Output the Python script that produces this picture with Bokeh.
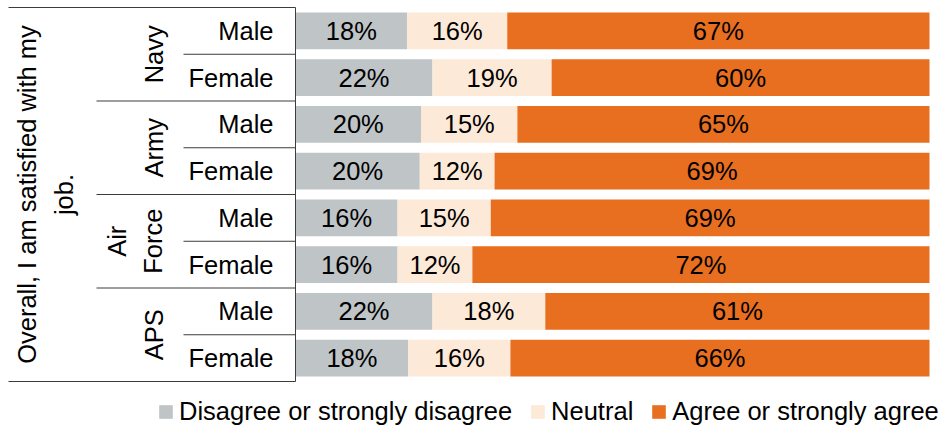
import math
from bokeh.plotting import figure
from bokeh.models import ColumnDataSource, Range1d, Legend, LegendItem
from bokeh.core.properties import value
from bokeh.embed import file_html
from bokeh.resources import INLINE

# ---- data ----
question = "Overall, I am satisfied with my\njob."
services = ["Navy", "Army", "Air\nForce", "APS"]
genders = ["Male", "Female", "Male", "Female", "Male", "Female", "Male", "Female"]
disagree = [17.6, 21.6, 19.8, 19.6, 16.1, 16.1, 21.6, 17.8]
neutral = [15.8, 18.8, 15.2, 11.8, 14.7, 11.8, 17.8, 16.1]
agree = [66.6, 59.6, 65.0, 68.6, 69.2, 72.1, 60.6, 66.1]
series_names = ["Disagree or strongly disagree", "Neutral", "Agree or strongly agree"]
colors = ["#BFC4C7", "#FDE9D8", "#E86E20"]

FONT_NAME = "Liberation Sans"
FONT = value(FONT_NAME)
FS = "25.5px"

W, H = 941, 428
X0_PX, X100_PX = 295, 929
PPU = (X100_PX - X0_PX) / 100.0
TOP_PX, BOT_PX = 7, 381
ROW_PX = (BOT_PX - TOP_PX) / len(genders)


def px(p):
    return (p - X0_PX) / PPU


rows = list(range(len(genders)))
y_top = -0.5 - TOP_PX / ROW_PX
y_bot = -0.5 + (H - TOP_PX) / ROW_PX

p = figure(width=W, height=H, output_backend="svg", toolbar_location=None,
           x_range=Range1d(px(0), px(W)), y_range=Range1d(y_bot, y_top),
           x_axis_location=None, y_axis_location=None, min_border=0)
p.grid.visible = False
p.outline_line_color = None
p.background_fill_color = "white"

renderers = []
left = [0.0] * len(rows)
for name, vals, col in zip(series_names, [disagree, neutral, agree], colors):
    right = [l + v for l, v in zip(left, vals)]
    src = ColumnDataSource(dict(y=rows, left=left, right=right,
                                mid=[(l + r) / 2 for l, r in zip(left, right)],
                                lab=[f"{v:.0f}%" for v in vals]))
    r = p.hbar(y="y", left="left", right="right", height=0.79, source=src,
               fill_color=col, line_color=None)
    renderers.append((name, r))
    p.text(x="mid", y="y", text="lab", source=src, text_align="center",
           text_baseline="middle", text_font=FONT, text_font_size=FS,
           text_color="black")
    left = right

# category labels (gender)
p.text(x=[px(273)] * len(rows), y=rows, text=genders, text_align="right",
       text_baseline="middle", text_font=FONT, text_font_size=FS, text_color="black")

# service group labels (rotated)
grp_y = [2 * j + 0.5 for j in range(len(services))]
p.text(x=[px(167)] * len(services), y=grp_y, text=services, angle=math.pi / 2,
       text_align="center", text_baseline="bottom", text_font=FONT,
       text_font_size=FS, text_color="black", text_line_height=1.3)

# question label (rotated)
p.text(x=[px(45)], y=[(len(rows) - 1) / 2], text=[question], angle=math.pi / 2,
       text_align="center", text_baseline="middle", text_font=FONT,
       text_font_size=FS, text_color="black", text_line_height=1.3)

# axis and separator lines, each drawn as its own line
LC = "#3c3c3c"
xs, ys = [], []
xs.append([0, 0]); ys.append([-0.5, len(rows) - 0.5])
for yy in [-0.5, len(rows) - 0.5]:
    xs.append([px(8), 0]); ys.append([yy, yy])
for j in range(1, len(services)):
    yy = 2 * j - 0.5
    xs.append([px(96), 0]); ys.append([yy, yy])
for j in range(len(services)):
    yy = 2 * j + 0.5
    xs.append([px(183), 0]); ys.append([yy, yy])
p.multi_line(xs=xs, ys=ys, line_color=LC, line_width=1)

legend = Legend(items=[LegendItem(label=n, renderers=[r]) for n, r in renderers],
                orientation="horizontal", location=(157, 2), glyph_width=17,
                glyph_height=17, label_standoff=5, spacing=17, padding=0, margin=0,
                border_line_color=None, background_fill_alpha=0,
                label_text_font=FONT_NAME, label_text_font_size=FS,
                label_text_color="black")
p.add_layout(legend)

open("out.html", "w").write(file_html(p, INLINE))
